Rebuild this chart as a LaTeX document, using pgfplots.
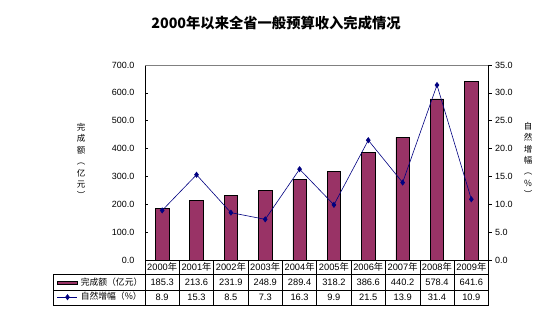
\documentclass[border=0pt]{standalone}
\usepackage{pgfplots}
\pgfplotsset{compat=1.18}
\usepackage{fontspec}
\setmainfont{Liberation Sans}
\newfontfamily\cjk{Noto Sans CJK SC}
\definecolor{plum}{HTML}{993366}
\definecolor{navyb}{HTML}{000080}
\pgfplotsset{lineleg/.style={legend image code/.code={\draw[mark repeat=2, mark phase=2, ##1] plot coordinates {(0pt,0pt) (10pt,0pt) (20pt,0pt)};}},
  barleg/.style={legend image code/.code={\draw[fill=plum, draw=black, line width=0.5pt] (0pt,-1.8pt) rectangle (20pt,1.8pt);}}}
\begin{document}
\begin{tikzpicture}
\useasboundingbox (0,0) rectangle (554pt,333pt);
\pgfplotsset{common/.style={
  scale only axis, width=343.5pt, height=195pt,
  at={(145pt,73pt)}, anchor=south west,
  xmin=-0.5, xmax=9.5, xtick=\empty, ymin=0,
  /pgf/number format/.cd, fixed, fixed zerofill, precision=1, assume math mode=true,
  /pgfplots/.cd,
  tick label style={font=\fontsize{9}{10}\selectfont},
  major tick length=3pt,
  every tick/.style={black, line width=0.5pt},
  axis line style={line width=0.7pt},
  clip=false}}
% Bars: left axis
\begin{axis}[common, ymax=700, ytick={0,100,...,700},
  axis x line*=bottom, axis y line*=left, tick align=inside,
  yticklabel style={xshift=-7pt}]
\addplot[ybar, bar width=13.5pt, fill=plum, draw=black, line width=0.6pt]
  coordinates {(0,185.3) (1,213.6) (2,231.9) (3,248.9) (4,289.4) (5,318.2) (6,386.6) (7,440.2) (8,578.4) (9,641.6)};
\draw[gray, line width=0.7pt] (rel axis cs:0,1) -- (rel axis cs:1,1);
\end{axis}
% Growth line: right axis
\begin{axis}[common, ymax=35, ytick={0,5,...,35},
  axis y line*=right, axis x line=none, tick align=outside,
  legend style={at={(axis description cs:-0.2562,-0.0897)}, anchor=north west,
    draw=none, fill=none, inner sep=0pt, row sep=4.5pt,
    nodes={inner sep=0pt, text height=7.5pt, text depth=2.5pt},
    /tikz/every odd column/.append style={column sep=3pt},
    font=\cjk\fontsize{8.8}{10}\selectfont},
  legend cell align=left]
\addlegendimage{barleg}
\addlegendentry{完成额（亿元）}
\addplot[navyb, line width=0.6pt, mark=diamond*, mark size=2.6pt,
  mark options={solid, fill=navyb}, lineleg]
  coordinates {(0,8.9) (1,15.3) (2,8.5) (3,7.3) (4,16.3) (5,9.9) (6,21.5) (7,13.9) (8,31.4) (9,10.9)};
\addlegendentry{自然增幅（\%）}
\end{axis}
% Data table
\begin{scope}[x=1pt,y=1pt]
\def\cw{34.35}
\foreach \k in {0,...,10} {\draw[line width=0.6pt] ({145+\cw*\k},73) -- ({145+\cw*\k},28);}
\draw[line width=0.6pt] (53,59) -- (488.5,59);
\draw[line width=0.6pt] (53,43) -- (488.5,43);
\draw[line width=0.6pt] (53,28) -- (488.5,28);
\draw[line width=0.6pt] (53,59) -- (53,28);
\foreach \y [count=\i from 0] in {2000,2001,2002,2003,2004,2005,2006,2007,2008,2009} {
  \node[font=\fontsize{9.3}{10}\selectfont, inner sep=0pt] at ({145+\cw*(\i+0.5)},66.5) {\y{\cjk 年}};}
\foreach \v [count=\i from 0] in {185.3,213.6,231.9,248.9,289.4,318.2,386.6,440.2,578.4,641.6} {
  \node[font=\fontsize{9.3}{10}\selectfont, inner sep=0pt] at ({145+\cw*(\i+0.5)},51) {\v};}
\foreach \v [count=\i from 0] in {8.9,15.3,8.5,7.3,16.3,9.9,21.5,13.9,31.4,10.9} {
  \node[font=\fontsize{9.3}{10}\selectfont, inner sep=0pt] at ({145+\cw*(\i+0.5)},35.5) {\v};}
% Titles and axis labels
\node[font=\cjk\bfseries\fontsize{14.3}{16}\selectfont] at (276,310) {2000年以来全省一般预算收入完成情况};
\node[font=\cjk\fontsize{8.5}{11.4}\selectfont, align=center, inner sep=0pt] at (81,172) {完\\成\\额\\︵\\亿\\元\\︶};
\node[font=\cjk\fontsize{8.5}{11.4}\selectfont, align=center, inner sep=0pt] at (528,173) {自\\然\\增\\幅\\︵\\\%\\︶};
\end{scope}
\end{tikzpicture}
\end{document}
